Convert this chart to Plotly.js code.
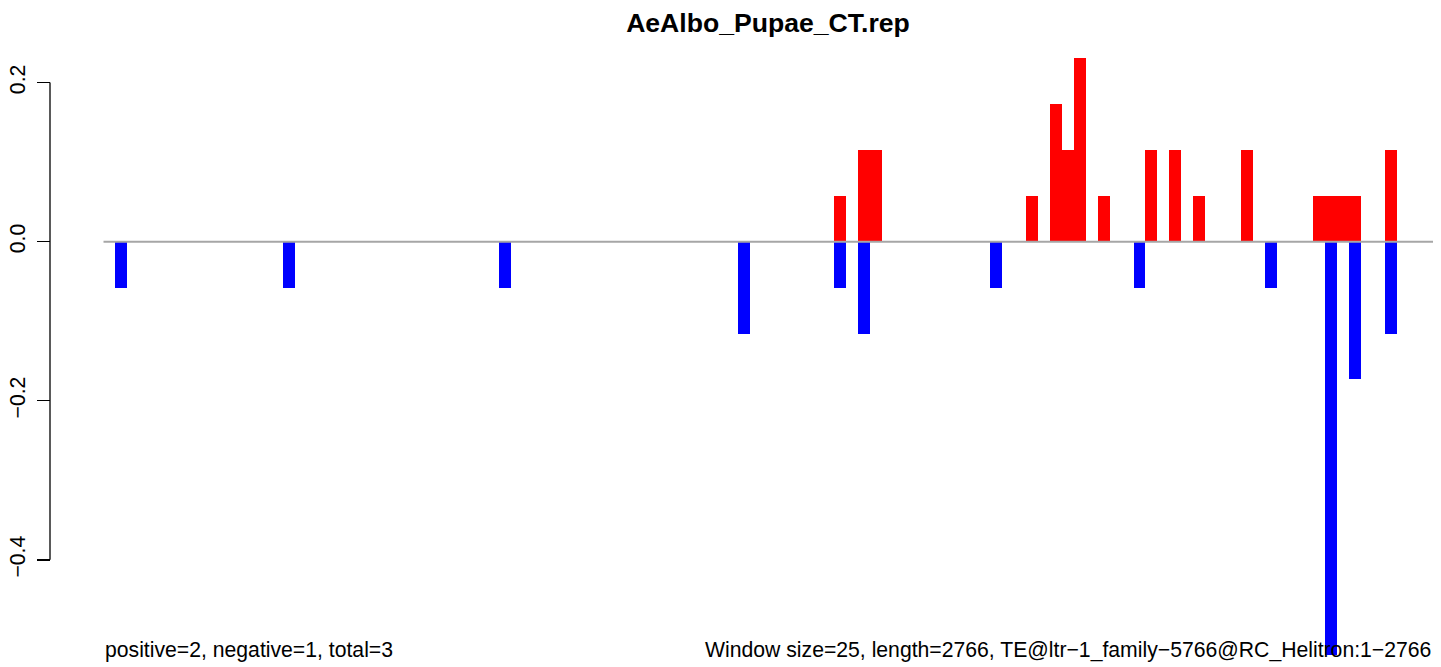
<!DOCTYPE html>
<html>
<head>
<meta charset="utf-8">
<script src="https://cdn.plot.ly/plotly-3.0.1.min.js"></script>
<style>html,body{margin:0;padding:0;background:#fff;}#chart{width:1441px;height:667px;}</style>
</head>
<body>
<div id="chart"></div>
<script>
// Window indices (window size 25 bp, 111 windows over length 2766)
const windowCount = 111;
const posWindow = [61, 63, 64, 77, 79, 80, 81, 83, 87, 89, 91, 95, 101, 102, 103, 104, 107];
const posValue  = [0.0577, 0.1155, 0.1155, 0.0577, 0.1732, 0.1155, 0.2309, 0.0577, 0.1155, 0.1155, 0.0577, 0.1155, 0.0577, 0.0577, 0.0577, 0.0577, 0.1155];
const negWindow = [1, 15, 33, 53, 61, 63, 74, 86, 97, 102, 104, 107];
const negValue  = [-0.0577, -0.0577, -0.0577, -0.1155, -0.0577, -0.1155, -0.0577, -0.0577, -0.0577, -0.5196, -0.1732, -0.1155];
const yTickVals = [-0.4, -0.2, 0.0, 0.2];
const yTickText = ["\u22120.4", "\u22120.2", "0.0", "0.2"];
const titleText = "AeAlbo_Pupae_CT.rep";
const leftNote = "positive=2, negative=1, total=3";
const rightNote = "Window size=25, length=2766, TE@ltr\u22121_family\u22125766@RC_Helitron:1\u22122766";

const FONT = "Liberation Sans, Arial, Helvetica, sans-serif";
const W = 1441, H = 667, ML = 50, MR = 8, MT = 58, MB = 12;
const plotLeftPx = 103.3;
const domStart = (plotLeftPx - ML) / (W - ML - MR);
const FS = 21.2;

const traces = [
  {type: 'bar', x: posWindow.map(w => w + 0.5), y: posValue, width: 1,
   marker: {color: '#FF0000', line: {width: 0}}, hoverinfo: 'skip', showlegend: false},
  {type: 'bar', x: negWindow.map(w => w + 0.5), y: negValue, width: 1,
   marker: {color: '#0000FF', line: {width: 0}}, hoverinfo: 'skip', showlegend: false}
];

const layout = {
  width: W, height: H,
  margin: {l: ML, r: MR, t: MT, b: MB, pad: 0},
  paper_bgcolor: '#fff', plot_bgcolor: '#fff',
  barmode: 'overlay', bargap: 0,
  font: {family: FONT, color: '#000', size: FS},
  title: {text: '<b>' + titleText + '</b>', font: {family: FONT, size: 26.6, color: '#000'},
          xref: 'container', x: 768 / W, xanchor: 'center',
          yref: 'container', y: 1 - 23 / H, yanchor: 'middle'},
  xaxis: {domain: [domStart, 1], range: [0, windowCount], visible: false, fixedrange: true},
  yaxis: {range: [-0.5196, 0.2309], anchor: 'free', position: 0,
          showline: false, showgrid: false, zeroline: false,
          tickmode: 'array', tickvals: yTickVals, ticktext: yTickText,
          ticks: 'outside', ticklen: 13, tickwidth: 1.3, tickcolor: '#000',
          tickangle: -90, tickfont: {family: FONT, size: FS, color: '#000'},
          ticklabelstandoff: 4, fixedrange: true},
  shapes: [
    {type: 'line', xref: 'paper', yref: 'y', x0: 0, x1: 0, y0: -0.4, y1: 0.2,
     line: {color: '#000', width: 1.3}},
    {type: 'line', xref: 'x', yref: 'y', x0: 0, x1: windowCount, y0: 0, y1: 0,
     line: {color: '#A6A6A6', width: 2}, layer: 'above'}
  ],
  annotations: [
    {text: leftNote, xref: 'x', x: 0, xanchor: 'left', yref: 'paper', y: 0, yanchor: 'middle',
     yshift: 5, showarrow: false, font: {family: FONT, size: FS, color: '#000'}},
    {text: rightNote, xref: 'x', x: windowCount, xanchor: 'right', yref: 'paper', y: 0, yanchor: 'middle',
     yshift: 5, showarrow: false, font: {family: FONT, size: FS, color: '#000'}}
  ]
};

Plotly.newPlot('chart', traces, layout, {displayModeBar: false, staticPlot: true});
</script>
</body>
</html>
